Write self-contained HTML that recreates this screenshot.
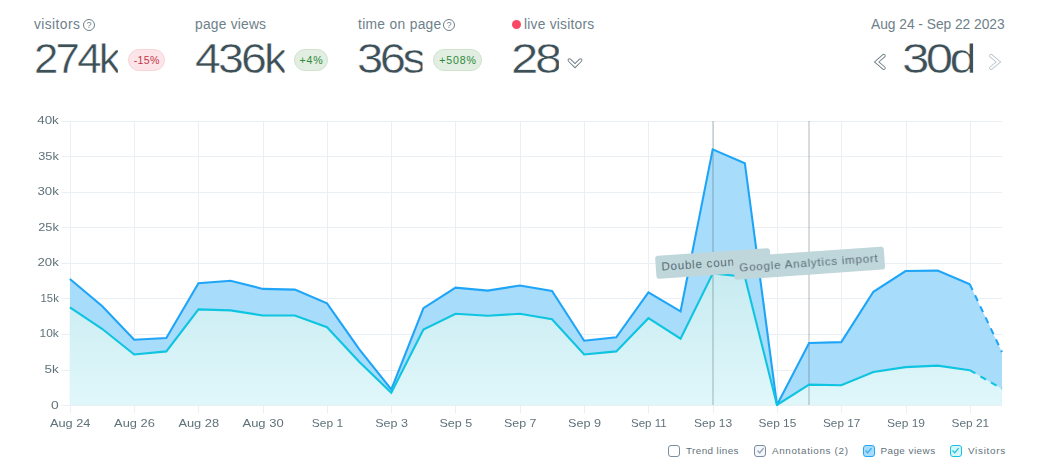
<!DOCTYPE html>
<html>
<head>
<meta charset="utf-8">
<title>Analytics</title>
<style>
*{box-sizing:border-box;margin:0;padding:0}
html,body{width:1053px;height:476px;background:#fff;overflow:hidden}
body{font-family:"Liberation Sans",sans-serif;position:relative;color:#3e5159}
.abs{position:absolute;white-space:nowrap;line-height:1}
.lbl{font-size:13.8px;color:#6e8189;letter-spacing:0.22px}
.big{font-size:43px;color:#3d5058;-webkit-text-stroke:0.45px #fff;transform-origin:0 0;clip-path:inset(6.2px 0 0 0)}
.badge{position:absolute;height:22px;border-radius:11px;font-size:10.6px;line-height:20px;text-align:center;border:1px solid;letter-spacing:0.3px;padding-left:0.3px}
.red{background:#fce5e8;border-color:#f8d3d8;color:#c4374a}
.green{background:#e1eee1;border-color:#cfe3cf;color:#2f8a3a;letter-spacing:0.9px;padding-left:0.9px}
.q{position:absolute;width:12px;height:12px;border:1px solid #6f8087;border-radius:50%;font-size:9px;line-height:10px;text-align:center;color:#6f8087}
svg{position:absolute;left:0;top:0}
#chart{will-change:transform}
.ax{font-size:11px;fill:#5f727a;font-family:"Liberation Sans",sans-serif}
.note{position:absolute;height:23px;background:#bfd6db;border-radius:3px;color:#5a6e76;font-size:11.6px;line-height:22.6px;padding-left:5.6px;letter-spacing:0.77px;white-space:nowrap;overflow:hidden;transform:rotate(-4deg);transform-origin:0 0}
.cb{position:absolute;top:444.9px;width:11.8px;height:11.9px;border:1.2px solid;border-radius:3px}
.cb svg{left:0.2px;top:0px}
.lg{position:absolute;top:445.4px;font-size:9.9px;line-height:11px;color:#5f727a;white-space:nowrap;letter-spacing:0.4px}
</style>
</head>
<body>
<!-- header stats -->
<div class="abs lbl" style="left:34px;top:18px;letter-spacing:0.42px">visitors</div>
<div class="q" style="left:83px;top:19px">?</div>
<div class="abs big" style="left:33.55px;top:37.2px;transform:scaleX(1.018);letter-spacing:-2.71px">274k</div>
<div class="badge red" style="left:128px;top:49px;width:37px">-15%</div>

<div class="abs lbl" style="left:195px;top:18px">page views</div>
<div class="abs big" style="left:194.55px;top:37.2px;transform:scaleX(1.080);letter-spacing:-2.58px">436k</div>
<div class="badge green" style="left:294.2px;top:49px;width:33.7px">+4%</div>

<div class="abs lbl" style="left:358px;top:18px;letter-spacing:0.32px">time on page</div>
<div class="q" style="left:443px;top:19px">?</div>
<div class="abs big" style="left:357.2px;top:37.2px;transform:scaleX(1.097);letter-spacing:-3.21px">36s</div>
<div class="badge green" style="left:433.2px;top:49px;width:48.8px">+508%</div>

<div class="abs" style="left:512px;top:20px;width:9px;height:9px;border-radius:50%;background:#f94764"></div>
<div class="abs lbl" style="left:524px;top:18px">live visitors</div>
<div class="abs big" style="left:511.2px;top:37.2px;transform:scaleX(1.144);letter-spacing:-3.00px">28</div>

<div class="abs lbl" style="left:871px;top:18px;letter-spacing:-0.03px">Aug 24 - Sep 22 2023</div>
<div class="abs big" style="left:901.7px;top:37.2px;transform:scaleX(1.146);letter-spacing:-3.20px">30d</div>

<div class="cb" style="left:668.2px;border-color:#7b8da2;background:#fff"></div>
<div class="lg" style="left:686px">Trend lines</div>
<div class="cb" style="left:754.4px;border-color:#7b8da2;background:#f3f6fa"><svg width="9" height="9" viewBox="0 0 9 9"><path d="M1.5 4.6L3.7 6.8L7.6 2.1" stroke="#8e9db0" stroke-width="1.3" fill="none"/></svg></div>
<div class="lg" style="left:772px;letter-spacing:0.64px">Annotations (2)</div>
<div class="cb" style="left:863.1px;border-color:#22a6f6;background:#a8dcfb"><svg width="9" height="9" viewBox="0 0 9 9"><path d="M1.5 4.6L3.7 6.8L7.6 2.1" stroke="#3aaef5" stroke-width="1.35" fill="none"/></svg></div>
<div class="lg" style="left:880.4px;letter-spacing:0.47px">Page views</div>
<div class="cb" style="left:950.2px;border-color:#0ec4e0;background:#d9f5f9"><svg width="9" height="9" viewBox="0 0 9 9"><path d="M1.5 4.6L3.7 6.8L7.6 2.1" stroke="#1fc8e2" stroke-width="1.35" fill="none"/></svg></div>
<div class="lg" style="left:968px;letter-spacing:0.7px">Visitors</div>

<svg id="chart" width="1053" height="476" viewBox="0 0 1053 476">
<defs><linearGradient id="gv" x1="0" y1="260" x2="0" y2="405" gradientUnits="userSpaceOnUse"><stop offset="0" stop-color="#c5eaf0"/><stop offset="1" stop-color="#e0f7fa"/></linearGradient><clipPath id="ca"><rect x="69" y="100" width="934.2" height="306.1"/></clipPath></defs>
<path d="M61.5 121.5H1002 M61.5 156.5H1002 M61.5 192.5H1002 M61.5 227.5H1002 M61.5 263.5H1002 M61.5 298.5H1002 M61.5 334.5H1002 M61.5 370.5H1002 M61.5 405.5H1002 M70.5 121V413.5 M134.5 121V413.5 M198.5 121V413.5 M263.5 121V413.5 M327.5 121V413.5 M391.5 121V413.5 M455.5 121V413.5 M520.5 121V413.5 M584.5 121V413.5 M648.5 121V413.5 M713.5 121V413.5 M777.5 121V413.5 M841.5 121V413.5 M906.5 121V413.5 M970.5 121V413.5" stroke="#e9eff3" stroke-width="1" fill="none"/>
<path d="M69.9 405.0 L69.9 279.0 L102.04 306.0 L134.18 339.7 L166.32 338.0 L198.46 283.2 L230.6 280.8 L262.74 288.9 L294.88 289.6 L327.02 303.4 L359.16 349.1 L391.3 389.4 L423.44 308.1 L455.58 287.6 L487.72 290.6 L519.86 285.5 L552.0 290.9 L584.14 340.7 L616.28 337.3 L648.42 292.3 L680.56 311.4 L712.7 149.4 L744.84 163.2 L776.98 405.0 L809.12 343.0 L841.26 342.1 L873.4 291.8 L905.54 271.0 L937.68 270.6 L969.82 284.3 L1001.96 352.0 L1001.96 405.0Z" fill="#a8dcfb"/>
<path d="M69.9 405.0 L69.9 307.4 L102.04 328.8 L134.18 354.5 L166.32 351.4 L198.46 309.4 L230.6 310.4 L262.74 315.5 L294.88 315.5 L327.02 327.2 L359.16 361.8 L391.3 392.8 L423.44 329.6 L455.58 313.8 L487.72 315.8 L519.86 313.8 L552.0 319.2 L584.14 354.5 L616.28 351.4 L648.42 318.2 L680.56 338.7 L712.7 273.5 L744.84 276.8 L776.98 405.0 L809.12 384.6 L841.26 385.3 L873.4 372.0 L905.54 367.1 L937.68 365.6 L969.82 370.2 L1001.96 388.7 L1001.96 405.0Z" fill="url(#gv)"/>
<path d="M713 121V405M809 121V405" stroke="#3e5159" stroke-width="2" fill="none" opacity="0.2"/>
<path d="M69.9 279.0 L102.04 306.0 L134.18 339.7 L166.32 338.0 L198.46 283.2 L230.6 280.8 L262.74 288.9 L294.88 289.6 L327.02 303.4 L359.16 349.1 L391.3 389.4 L423.44 308.1 L455.58 287.6 L487.72 290.6 L519.86 285.5 L552.0 290.9 L584.14 340.7 L616.28 337.3 L648.42 292.3 L680.56 311.4 L712.7 149.4 L744.84 163.2 L776.98 405.0 L809.12 343.0 L841.26 342.1 L873.4 291.8 L905.54 271.0 L937.68 270.6 L969.82 284.3" stroke="#1fa5f8" stroke-width="2.1" fill="none" stroke-linejoin="miter" stroke-miterlimit="10" clip-path="url(#ca)"/>
<path d="M969.82 284.3 L1001.96 352.0" stroke="#1fa5f8" stroke-width="2.1" fill="none" stroke-dasharray="6.4 5.8"/>
<path d="M69.9 307.4 L102.04 328.8 L134.18 354.5 L166.32 351.4 L198.46 309.4 L230.6 310.4 L262.74 315.5 L294.88 315.5 L327.02 327.2 L359.16 361.8 L391.3 392.8 L423.44 329.6 L455.58 313.8 L487.72 315.8 L519.86 313.8 L552.0 319.2 L584.14 354.5 L616.28 351.4 L648.42 318.2 L680.56 338.7 L712.7 273.5 L744.84 276.8 L776.98 405.0 L809.12 384.6 L841.26 385.3 L873.4 372.0 L905.54 367.1 L937.68 365.6 L969.82 370.2" stroke="#0ec4e0" stroke-width="2.1" fill="none" stroke-linejoin="miter" stroke-miterlimit="10" clip-path="url(#ca)"/>
<path d="M969.82 370.2 L1001.96 388.7" stroke="#0ec4e0" stroke-width="2.1" fill="none" stroke-dasharray="6.4 5.8"/>
<text class="ax" x="37.2" y="124.3" textLength="21.6" lengthAdjust="spacingAndGlyphs" style="font-size:10.3px">40k</text>
<text class="ax" x="38.2" y="159.8" textLength="20.6" lengthAdjust="spacingAndGlyphs" style="font-size:10.3px">35k</text>
<text class="ax" x="37.5" y="195.3" textLength="21.3" lengthAdjust="spacingAndGlyphs" style="font-size:10.3px">30k</text>
<text class="ax" x="38.2" y="230.8" textLength="20.6" lengthAdjust="spacingAndGlyphs" style="font-size:10.3px">25k</text>
<text class="ax" x="37.5" y="266.3" textLength="21.3" lengthAdjust="spacingAndGlyphs" style="font-size:10.3px">20k</text>
<text class="ax" x="40.6" y="301.8" textLength="18.2" lengthAdjust="spacingAndGlyphs" style="font-size:10.3px">15k</text>
<text class="ax" x="39.6" y="337.3" textLength="19.2" lengthAdjust="spacingAndGlyphs" style="font-size:10.3px">10k</text>
<text class="ax" x="44.6" y="372.8" textLength="14.2" lengthAdjust="spacingAndGlyphs" style="font-size:10.3px">5k</text>
<text class="ax" x="51.1" y="408.8" textLength="7.7" lengthAdjust="spacingAndGlyphs" style="font-size:10.3px">0</text>
<text class="ax" x="49.9" y="426.7" textLength="40.5" lengthAdjust="spacingAndGlyphs" style="font-size:11.1px">Aug 24</text>
<text class="ax" x="114.1" y="426.7" textLength="40.7" lengthAdjust="spacingAndGlyphs" style="font-size:11.1px">Aug 26</text>
<text class="ax" x="178.4" y="426.7" textLength="40.7" lengthAdjust="spacingAndGlyphs" style="font-size:11.1px">Aug 28</text>
<text class="ax" x="242.5" y="426.7" textLength="41.1" lengthAdjust="spacingAndGlyphs" style="font-size:11.1px">Aug 30</text>
<text class="ax" x="311.7" y="426.7" textLength="31.4" lengthAdjust="spacingAndGlyphs" style="font-size:11.1px">Sep 1</text>
<text class="ax" x="375.2" y="426.7" textLength="32.800000000000004" lengthAdjust="spacingAndGlyphs" style="font-size:11.1px">Sep 3</text>
<text class="ax" x="439.5" y="426.7" textLength="32.800000000000004" lengthAdjust="spacingAndGlyphs" style="font-size:11.1px">Sep 5</text>
<text class="ax" x="504.0" y="426.7" textLength="32.5" lengthAdjust="spacingAndGlyphs" style="font-size:11.1px">Sep 7</text>
<text class="ax" x="568.0" y="426.7" textLength="33.1" lengthAdjust="spacingAndGlyphs" style="font-size:11.1px">Sep 9</text>
<text class="ax" x="631.0" y="426.7" textLength="35.7" lengthAdjust="spacingAndGlyphs" style="font-size:11.1px">Sep 11</text>
<text class="ax" x="694.1" y="426.7" textLength="38.0" lengthAdjust="spacingAndGlyphs" style="font-size:11.1px">Sep 13</text>
<text class="ax" x="758.6" y="426.7" textLength="37.7" lengthAdjust="spacingAndGlyphs" style="font-size:11.1px">Sep 15</text>
<text class="ax" x="823.0" y="426.7" textLength="37.400000000000006" lengthAdjust="spacingAndGlyphs" style="font-size:11.1px">Sep 17</text>
<text class="ax" x="887.0" y="426.7" textLength="38.0" lengthAdjust="spacingAndGlyphs" style="font-size:11.1px">Sep 19</text>
<text class="ax" x="951.5" y="426.7" textLength="37.7" lengthAdjust="spacingAndGlyphs" style="font-size:11.1px">Sep 21</text>
<path d="M569.5 60.2 L575 65.7 L580.5 60.2" stroke="#6b7d84" stroke-width="3.8" fill="none" stroke-linecap="round" stroke-linejoin="miter"/><path d="M569.5 60.2 L575 65.7 L580.5 60.2" stroke="#fff" stroke-width="2.0" fill="none" stroke-linecap="round" stroke-linejoin="miter"/>
<path d="M883.8 55.7 L876.7 61.9 L883.8 68.1" stroke="#6b7d84" stroke-width="3.8" fill="none" stroke-linecap="round" stroke-linejoin="miter"/><path d="M883.8 55.7 L876.7 61.9 L883.8 68.1" stroke="#fff" stroke-width="2.0" fill="none" stroke-linecap="round" stroke-linejoin="miter"/>
<path d="M991.0 55.7 L998.4 61.9 L991.0 68.1" stroke="#b9c5cc" stroke-width="3.8" fill="none" stroke-linecap="round" stroke-linejoin="miter"/><path d="M991.0 55.7 L998.4 61.9 L991.0 68.1" stroke="#fff" stroke-width="2.0" fill="none" stroke-linecap="round" stroke-linejoin="miter"/>
</svg>
<div class="note" style="left:655.4px;top:255.9px;width:114.5px">Double coun</div>
<div class="note" style="left:733.4px;top:256.9px;width:151px">Google Analytics import</div>

</body>
</html>
